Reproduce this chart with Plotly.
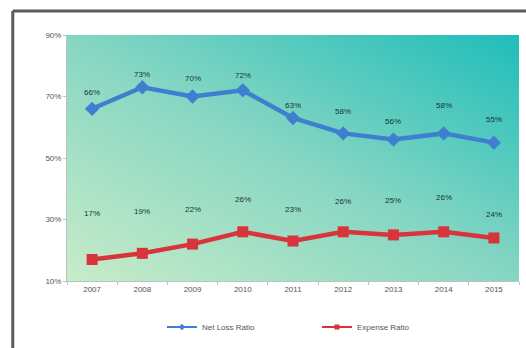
import base64
import plotly.graph_objects as go

# Ratios by year (percent)
years = ["2007", "2008", "2009", "2010", "2011", "2012", "2013", "2014", "2015"]
net_loss_ratio = [66, 73, 70, 72, 63, 58, 56, 58, 55]
expense_ratio = [17, 19, 22, 26, 23, 26, 25, 26, 24]
y_ticks = [10, 30, 50, 70, 90]

# Vertical offsets (px) of the value labels above each point
net_label_shift = [16, 13, 18, 15, 13, 22, 18, 28, 23]
exp_label_shift = [46, 42, 35, 32, 32, 30, 34, 34, 23]

BLUE = "#3f7fd0"
RED = "#d8343c"
TEXT = "#555555"
LABEL = "#183530"
FONT = "Liberation Sans"

# Diagonal gradient for the plot area: light green bottom-left -> teal top-right
gradient_svg = (
    '<svg xmlns="http://www.w3.org/2000/svg" width="100" height="100" '
    'viewBox="0 0 100 100" preserveAspectRatio="none">'
    '<defs><linearGradient id="g" x1="0" y1="1" x2="1" y2="0">'
    '<stop offset="0" stop-color="#c8ecc8"/>'
    '<stop offset="0.5" stop-color="#86d6c3"/>'
    '<stop offset="1" stop-color="#1fbdba"/>'
    '</linearGradient></defs>'
    '<rect width="100" height="100" fill="url(#g)"/></svg>'
)
gradient_uri = "data:image/svg+xml;base64," + base64.b64encode(gradient_svg.encode()).decode()

fig = go.Figure()

series = [
    ("Net Loss Ratio", net_loss_ratio, BLUE, "diamond"),
    ("Expense Ratio", expense_ratio, RED, "square"),
]

# Data lines (legend entries are drawn by the slimmer key traces below)
for name, vals, color, symbol in series:
    fig.add_trace(go.Scatter(
        x=years, y=vals, name=name, mode="lines+markers", showlegend=False,
        line=dict(color=color, width=4.5),
        marker=dict(symbol=symbol, size=11, color=color),
    ))

# Legend keys: thin line with a small marker
for name, vals, color, symbol in series:
    fig.add_trace(go.Scatter(
        x=[None], y=[None], name=name, mode="lines+markers",
        line=dict(color=color, width=2),
        marker=dict(symbol=symbol, size=5, color=color),
    ))

# Value labels; x given as the category index so numeric-looking years are not
# read as coordinates
annotations = []
for i, (v, s) in enumerate(zip(net_loss_ratio, net_label_shift)):
    annotations.append(dict(x=i, y=v, text=f"{v}%", showarrow=False, yshift=s,
                            font=dict(family=FONT, size=8, color=LABEL)))
for i, (v, s) in enumerate(zip(expense_ratio, exp_label_shift)):
    annotations.append(dict(x=i, y=v, text=f"{v}%", showarrow=False, yshift=s,
                            font=dict(family=FONT, size=8, color=LABEL)))

# Outer frame lines (top and left edges)
shapes = [
    dict(type="line", xref="paper", yref="paper", x0=-0.12, x1=1.03,
         y0=1.098, y1=1.098, line=dict(color="#5a5a5a", width=3)),
    dict(type="line", xref="paper", yref="paper", x0=-0.12, x1=-0.12,
         y0=1.098, y1=-0.32, line=dict(color="#5a5a5a", width=3)),
]

fig.update_layout(
    width=526, height=348,
    margin=dict(l=67, r=7, t=35, b=67),
    paper_bgcolor="white", plot_bgcolor="rgba(0,0,0,0)",
    font=dict(family=FONT, size=8, color=TEXT),
    showlegend=True,
    legend=dict(orientation="h", x=0.553, xanchor="center", y=-0.187, yanchor="middle",
                font=dict(family=FONT, size=8, color=TEXT), itemwidth=30,
                entrywidth=110, bgcolor="rgba(0,0,0,0)"),
    xaxis=dict(type="category", range=[-0.5, 8.5], showgrid=False, zeroline=False,
               showline=True, linecolor="#b8c4c0", linewidth=1,
               ticks="outside", tickson="boundaries", ticklen=3, tickcolor="#b8c4c0",
               tickfont=dict(family=FONT, size=8, color=TEXT)),
    yaxis=dict(range=[10, 90], tickvals=y_ticks, ticktext=[f"{t}%" for t in y_ticks],
               showgrid=False, zeroline=False, showline=True, linecolor="#b8c4c0",
               linewidth=1, ticks="outside", ticklen=3, tickcolor="#b8c4c0",
               tickfont=dict(family=FONT, size=8, color=TEXT)),
    images=[dict(source=gradient_uri, xref="paper", yref="paper", x=0, y=1,
                 sizex=1, sizey=1, xanchor="left", yanchor="top",
                 sizing="stretch", layer="below")],
    annotations=annotations,
    shapes=shapes,
)

fig.write_html("out.html")
